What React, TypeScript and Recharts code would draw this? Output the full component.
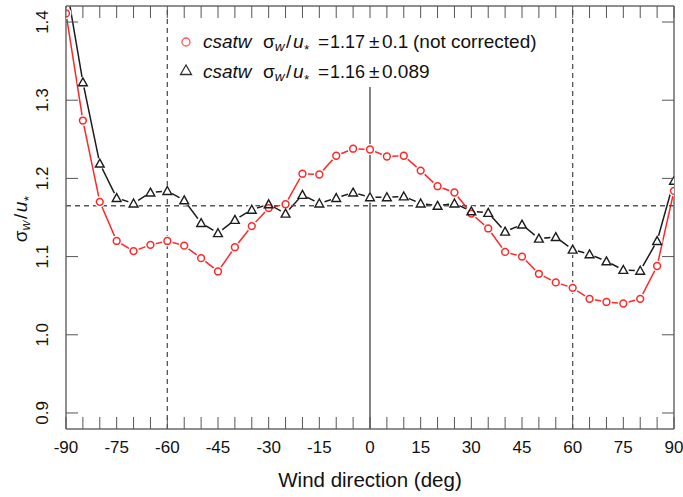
import React from 'react';
import { LineChart, Line, XAxis, YAxis, ReferenceLine, Legend } from 'recharts';

// wind direction bins (deg), one every 5 degrees
const directions = [
  -90, -85, -80, -75, -70, -65, -60, -55, -50, -45, -40, -35, -30, -25, -20, -15, -10, -5,
  0, 5, 10, 15, 20, 25, 30, 35, 40, 45, 50, 55, 60, 65, 70, 75, 80, 85, 90,
];

// sigma_w / u_* , not corrected (red circles)
const notCorrected = [
  1.411, 1.274, 1.17, 1.12, 1.107, 1.115, 1.12, 1.114, 1.098, 1.081, 1.112, 1.139, 1.162, 1.167,
  1.206, 1.205, 1.229, 1.238, 1.237, 1.228, 1.229, 1.21, 1.19, 1.182, 1.155, 1.136, 1.106, 1.1,
  1.078, 1.067, 1.06, 1.046, 1.042, 1.04, 1.046, 1.088, 1.184,
];

// sigma_w / u_* , corrected (black triangles)
const corrected = [
  1.45, 1.323, 1.219, 1.175, 1.168, 1.182, 1.184, 1.172, 1.143, 1.13, 1.147, 1.16, 1.167, 1.155,
  1.179, 1.168, 1.175, 1.182, 1.176, 1.176, 1.177, 1.168, 1.165, 1.168, 1.158, 1.156, 1.132, 1.141,
  1.123, 1.125, 1.109, 1.103, 1.094, 1.083, 1.082, 1.12, 1.197,
];

const yTicks = [0.9, 1.0, 1.1, 1.2, 1.3, 1.4];
const meanLevel = 1.165;
const sectorEdges = [-60, 60];
const legendRows = [
  { mean: '1.17', sd: '0.1', note: '(not corrected)' },
  { mean: '1.16', sd: '0.089', note: '' },
];

const chartData = directions.map((deg, i) => ({ deg, raw: notCorrected[i], corr: corrected[i] }));

const FONT = '"Liberation Sans", Arial, Helvetica, sans-serif';
const RED = '#ff2626';
const DARK = '#1c1c1c';
const AXIS = '#6a6a6a';
const TICK = '#555';
const Y_DOMAIN: [number, number] = [0.8795, 1.4205];

const BottomTick = (props: any) => {
  const { x, y, payload } = props;
  const v = payload.value;
  return (
    <g>
      <line x1={x} y1={y} x2={x} y2={y - 12} stroke={TICK} strokeWidth={1} />
      {v % 15 === 0 && (
        <text x={x} y={y + 24} textAnchor="middle" fontSize={17} fontFamily={FONT} fill="#111">
          {v}
        </text>
      )}
    </g>
  );
};

const TopTick = (props: any) => {
  const { x, y } = props;
  return <line x1={x} y1={y} x2={x} y2={y + 12} stroke={TICK} strokeWidth={1} />;
};

const LeftTick = (props: any) => {
  const { x, y, payload } = props;
  const tx = x - 17.5;
  return (
    <g>
      <line x1={x} y1={y} x2={x + 12} y2={y} stroke={TICK} strokeWidth={1} />
      <text
        x={tx}
        y={y}
        transform={`rotate(-90, ${tx}, ${y})`}
        textAnchor="middle"
        fontSize={17}
        fontFamily={FONT}
        fill="#111"
      >
        {payload.value.toFixed(1)}
      </text>
    </g>
  );
};

const RightTick = (props: any) => {
  const { x, y } = props;
  return <line x1={x} y1={y} x2={x - 12} y2={y} stroke={TICK} strokeWidth={1} />;
};

// white ring behind each point, to leave the small gap R draws with type = "b"
const Halo = (props: any) => {
  const { cx, cy, index } = props;
  if (cx == null || cy == null) return <g key={`h-${index}`} />;
  return <circle key={`h-${index}`} cx={cx} cy={cy} r={5.5} fill="#fff" stroke="none" />;
};

const CircleDot = (props: any) => {
  const { cx, cy, index } = props;
  if (cx == null || cy == null) return <g key={`c-${index}`} />;
  return <circle key={`c-${index}`} cx={cx} cy={cy} r={3.4} fill="none" stroke={RED} strokeWidth={1.5} />;
};

const TriangleDot = (props: any) => {
  const { cx, cy, index } = props;
  if (cx == null || cy == null) return <g key={`t-${index}`} />;
  const s = 4.4;
  const d = `M${cx},${cy - s} L${cx + s},${cy + s * 0.8} L${cx - s},${cy + s * 0.8} Z`;
  return <path key={`t-${index}`} d={d} fill="none" stroke={DARK} strokeWidth={1.4} strokeLinejoin="miter" />;
};

const Ratio = ({ big }: { big: number }) => (
  <>
    <tspan>σ</tspan>
    <tspan fontSize={big * 0.72} fontStyle="italic" dy={3}>w</tspan>
    <tspan dy={-3} dx={1.5}>/</tspan>
    <tspan fontStyle="italic" dx={1.5}>u</tspan>
    <tspan fontSize={big * 0.72} dy={6} dx={0.5}>*</tspan>
  </>
);

const LegendBox = () => (
  <svg width={400} height={64} style={{ display: 'block', overflow: 'visible' }}>
    {legendRows.map((row, i) => {
      const base = 23 + i * 30;
      return (
        <g key={i} fontFamily={FONT} fontSize={19} fill="#111">
          {i === 0 ? (
            <circle cx={16} cy={base - 6} r={4} fill="none" stroke="#ff5555" strokeWidth={1.3} />
          ) : (
            <path
              d={`M16,${base - 13} L21.5,${base - 3.5} L10.5,${base - 3.5} Z`}
              fill="none"
              stroke="#333"
              strokeWidth={1.3}
            />
          )}
          <text x={33} y={base} fontStyle="italic">csatw</text>
          <text x={93} y={base}>
            <Ratio big={19} />
          </text>
          <text x={148} y={base}>=</text>
          <text x={160} y={base} textLength={35} lengthAdjust="spacingAndGlyphs">{row.mean}</text>
          <text x={199} y={base}>±</text>
          <text x={212} y={base}>{row.sd}</text>
          {row.note && <text x={243} y={base}>{row.note}</text>}
        </g>
      );
    })}
  </svg>
);

const YTitle = () => (
  <text
    x={27}
    y={219}
    transform="rotate(-90, 27, 219)"
    textAnchor="middle"
    fontSize={19}
    fontFamily={FONT}
    fill="#111"
  >
    <Ratio big={19} />
  </text>
);

const XTitle = () => (
  <text x={370} y={487} textAnchor="middle" fontSize={20.5} fontFamily={FONT} fill="#111">
    Wind direction (deg)
  </text>
);

const App: React.FC = () => {
  return (
    <div style={{ position: 'absolute', left: 0, top: 0 }}>
      <LineChart width={683} height={497} data={chartData} margin={{ top: 0, right: 0, bottom: 0, left: 0 }}>
        <XAxis
          dataKey="deg"
          type="number"
          domain={[-90, 90]}
          ticks={directions}
          interval={0}
          allowDataOverflow
          height={68}
          tick={BottomTick}
          tickLine={false}
          tickSize={0}
          tickMargin={0}
          axisLine={{ stroke: AXIS, strokeWidth: 1.5 }}
          label={{ content: () => <XTitle /> }}
        />
        <XAxis
          xAxisId="top"
          orientation="top"
          dataKey="deg"
          type="number"
          domain={[-90, 90]}
          ticks={directions}
          interval={0}
          allowDataOverflow
          height={6}
          tick={TopTick}
          tickLine={false}
          tickSize={0}
          tickMargin={0}
          axisLine={{ stroke: AXIS, strokeWidth: 1.5 }}
        />
        <YAxis
          type="number"
          domain={Y_DOMAIN}
          ticks={yTicks}
          interval={0}
          allowDataOverflow
          width={66}
          tick={LeftTick}
          tickLine={false}
          tickSize={0}
          tickMargin={0}
          axisLine={{ stroke: AXIS, strokeWidth: 1.5 }}
          label={{ content: () => <YTitle /> }}
        />
        <YAxis
          yAxisId="right"
          orientation="right"
          type="number"
          domain={Y_DOMAIN}
          ticks={yTicks}
          interval={0}
          allowDataOverflow
          width={9}
          tick={RightTick}
          tickLine={false}
          tickSize={0}
          tickMargin={0}
          axisLine={{ stroke: AXIS, strokeWidth: 1.5 }}
        />
        <Legend
          layout="horizontal"
          verticalAlign="middle"
          align="center"
          wrapperStyle={{ left: 170, top: 25, width: 400, height: 64 }}
          content={() => <LegendBox />}
        />
        <Line dataKey="raw" stroke={RED} strokeWidth={1.5} dot={Halo} activeDot={false} isAnimationActive={false} legendType="none" />
        <Line dataKey="corr" stroke={DARK} strokeWidth={1.5} dot={Halo} activeDot={false} isAnimationActive={false} legendType="none" />
        <Line dataKey="raw" stroke="none" dot={CircleDot} activeDot={false} isAnimationActive={false} legendType="none" />
        <Line dataKey="corr" stroke="none" dot={TriangleDot} activeDot={false} isAnimationActive={false} legendType="none" />
        <ReferenceLine y={meanLevel} stroke="#555" strokeWidth={1.3} strokeDasharray="5 4" />
        {sectorEdges.map((e) => (
          <ReferenceLine key={e} x={e} stroke="#555" strokeWidth={1.3} strokeDasharray="5 4" />
        ))}
        <ReferenceLine
          segment={[
            { x: 0, y: 1.317 },
            { x: 0, y: Y_DOMAIN[0] },
          ]}
          stroke="#333"
          strokeWidth={1.2}
        />
      </LineChart>
    </div>
  );
};

export default App;
